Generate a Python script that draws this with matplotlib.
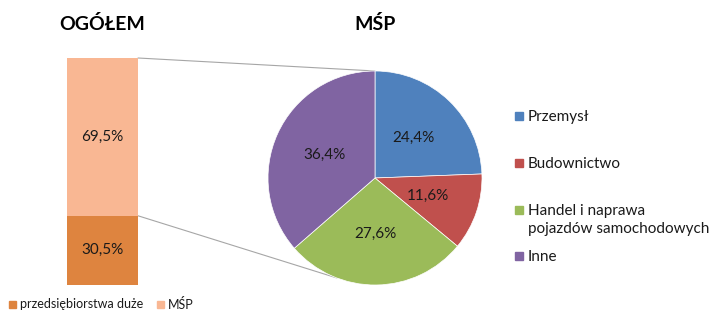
import numpy as np
import matplotlib
matplotlib.use('Agg')
import matplotlib.pyplot as plt
from matplotlib.patches import ConnectionPatch, Rectangle

plt.rcParams['font.family'] = ['Lato', 'DejaVu Sans']

W, H = 718, 320

# data
bar_labels = ['przedsiębiorstwa duże', 'MŚP']
bar_values = [30.5, 69.5]
bar_colors = ['#DE843F', '#F9B793']

pie_labels = ['Przemysł', 'Budownictwo', 'Handel i naprawa\npojazdów samochodowych', 'Inne']
pie_values = [24.4, 11.6, 27.6, 36.4]
pie_colors = ['#4F81BD', '#C0504D', '#9BBB59', '#8064A2']


def pct(v):
    return f'{v:.1f}%'.replace('.', ',')


fig = plt.figure(figsize=(W / 100, H / 100), dpi=100)


def px_axes(x0, y0, x1, y1, **kw):
    # box in pixels, origin top-left
    return fig.add_axes([x0 / W, 1 - y1 / H, (x1 - x0) / W, (y1 - y0) / H], **kw)


# overlay for titles and legends
ov = px_axes(0, 0, W, H, zorder=-1)
ov.set_xlim(0, W)
ov.set_ylim(H, 0)
ov.axis('off')

# stacked bar
ax_bar = px_axes(67, 58, 138, 285)
bottom = 0
for lab, v, c in zip(bar_labels, bar_values, bar_colors):
    b = ax_bar.bar(0, v, width=1, bottom=bottom, color=c, label=lab)
    ax_bar.bar_label(b, labels=[pct(v)], label_type='center', fontsize=11, color='#1a1a1a')
    bottom += v
ax_bar.set_xlim(-0.5, 0.5)
ax_bar.set_ylim(0, 100)
ax_bar.axis('off')

# pie
ax_pie = px_axes(268, 71, 482, 285)
wedges, texts, autotexts = ax_pie.pie(
    pie_values, colors=pie_colors, startangle=90, counterclock=False,
    autopct=pct, pctdistance=0.52,
    wedgeprops=dict(edgecolor='white', linewidth=0.5),
    textprops=dict(fontsize=11, color='#1a1a1a'))
ax_pie.set_xlim(-1, 1)
ax_pie.set_ylim(-1, 1)

# connector lines bar -> pie
a = np.deg2rad(249)
for ya, xyb in [(100, (0, 1)), (bar_values[0], (np.cos(a), np.sin(a)))]:
    con = ConnectionPatch(xyA=(0.5, ya), coordsA=ax_bar.transData,
                          xyB=xyb, coordsB=ax_pie.transData,
                          color='#A6A6A6', lw=0.8, zorder=0)
    fig.add_artist(con)

# titles
ov.text(102, 24, 'OGÓŁEM', ha='center', va='center', fontsize=14, fontweight='bold')
ov.text(375, 24, 'MŚP', ha='center', va='center', fontsize=14, fontweight='bold')

# pie legend
for lab, c, y in zip(pie_labels, pie_colors, [116, 163, 210, 256]):
    ov.add_patch(Rectangle((515, y - 4), 8, 8, color=c))
    for k, line in enumerate(lab.split('\n')):
        ov.text(528, y + 5 + 18 * k, line, ha='left', va='baseline', fontsize=11,
                color='#1a1a1a')

# bar legend
for lab, c, x in zip(bar_labels, bar_colors, [9, 157]):
    ov.add_patch(Rectangle((x, 301), 7, 7, color=c))
    ov.text(x + 11, 304.5, lab, ha='left', va='center', fontsize=9, color='#1a1a1a')

fig.savefig('out.png', dpi=100)
